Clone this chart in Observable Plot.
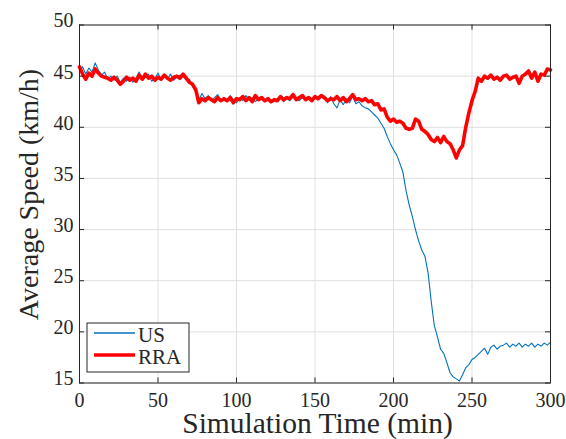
<!DOCTYPE html>
<html>
<head>
<meta charset="utf-8">
<script src="https://cdn.jsdelivr.net/npm/d3@7"></script>
<script src="https://cdn.jsdelivr.net/npm/@observablehq/plot@0.6"></script>
<style>
  html, body { margin: 0; padding: 0; background: white; }
  #chart { width: 566px; height: 439px; }
  #chart svg, #chart svg text { font-family: "Liberation Serif", "Times New Roman", "DejaVu Serif", serif !important; }
</style>
</head>
<body>
<div id="chart"></div>
<script>
const timeStep = 2; // minutes between samples
const usSpeed = [
  45.6,45.9,45.2,45.8,45.4,46.3,45.6,45.1,45.4,44.7,
  45.0,44.6,45.0,44.4,44.8,44.5,44.9,44.4,44.8,45.4,
  44.6,44.9,45.2,44.5,44.8,45.3,44.6,45.0,44.7,45.2,
  44.6,44.9,45.1,45.0,44.6,44.7,44.0,43.5,42.7,43.3,
  42.8,43.1,42.6,42.9,43.2,42.5,42.8,42.6,43.1,42.7,
  42.4,42.9,42.6,43.1,42.7,42.9,42.5,42.8,43.0,42.6,
  42.9,42.4,42.8,42.6,42.9,42.5,42.8,42.6,43.0,42.8,
  42.6,42.9,42.7,43.0,42.6,42.9,42.7,43.1,42.8,42.4,
  43.0,42.3,41.9,42.7,42.2,42.8,42.4,43.0,42.3,42.5,
  42.1,41.9,41.8,41.5,41.2,40.9,40.4,39.9,39.1,38.4,
  37.8,37.3,36.5,35.6,33.8,32.4,31.3,30.0,28.9,28.0,
  27.4,25.8,23.0,20.6,19.5,18.3,17.9,17.0,16.0,15.6,
  15.4,15.2,15.8,16.5,16.8,17.3,17.5,17.8,18.1,18.4,
  17.8,18.5,18.7,18.3,18.6,18.7,18.9,18.5,18.8,18.6,
  18.9,18.5,18.8,18.6,18.9,18.5,18.8,18.6,18.9,18.7,
  19.0
];
const rraSpeed = [
  45.9,45.2,44.7,45.3,45.0,45.7,45.3,45.0,44.9,44.8,
  44.6,44.9,44.6,44.2,44.5,44.9,44.6,44.8,44.5,45.1,
  44.7,45.2,44.8,45.0,44.6,44.9,44.7,45.1,44.8,44.6,
  44.9,45.0,44.8,45.2,44.8,44.4,44.2,43.7,42.4,42.8,
  42.6,42.9,42.7,42.5,42.9,42.6,42.8,42.6,42.9,42.4,
  42.8,42.7,43.0,42.6,42.9,42.5,43.1,42.7,42.9,42.6,
  42.8,42.5,42.7,42.6,43.0,42.7,42.9,42.8,43.2,42.7,
  42.9,43.1,42.7,42.9,42.6,43.0,42.8,43.1,42.9,42.6,
  42.8,42.7,43.0,42.6,42.9,42.5,42.8,43.2,42.7,42.8,
  42.6,42.8,42.5,42.6,42.2,42.3,41.7,41.8,41.0,40.6,
  40.8,40.5,40.6,40.4,39.9,39.8,39.9,40.8,40.6,39.8,
  39.6,39.3,38.8,38.6,39.0,38.5,39.1,38.6,38.4,37.8,
  37.0,37.8,38.2,40.0,41.4,42.6,43.5,44.8,44.5,45.0,
  44.8,45.1,44.7,44.9,44.6,45.0,45.1,44.7,44.9,45.0,
  44.3,45.0,45.2,45.5,44.8,45.4,44.5,45.2,45.1,45.7,
  45.6
];
const seriesNames = ["US", "RRA"];
const xTicks = [0, 50, 100, 150, 200, 250, 300];
const yTicks = [15, 20, 25, 30, 35, 40, 45, 50];
const xLabel = "Simulation Time (min)";
const yLabel = "Average Speed (km/h)";

const usData = usSpeed.map((v, i) => ({t: i * timeStep, v}));
const rraData = rraSpeed.map((v, i) => ({t: i * timeStep, v}));

const W = 566, H = 439;
const mL = 79, mR = 16, mT = 24.5, mB = 56.5;
const plotW = W - mL - mR, plotH = H - mT - mB;
const ink = "#262626";
const blue = "#0072BD", red = "#FF0000";
const serif = "Liberation Serif, Times New Roman, serif";

const chart = Plot.plot({
  width: W, height: H,
  marginLeft: mL, marginRight: mR, marginTop: mT, marginBottom: mB,
  x: {domain: [0, 300]},
  y: {domain: [15, 50]},
  style: {fontFamily: serif, fontSize: "20px", color: ink, background: "white", overflow: "visible"},
  marks: [
    Plot.gridX(xTicks, {stroke: "#dfdfdf", strokeOpacity: 1, strokeWidth: 1}),
    Plot.gridY(yTicks, {stroke: "#dfdfdf", strokeOpacity: 1, strokeWidth: 1}),
    Plot.line(usData, {x: "t", y: "v", stroke: blue, strokeWidth: 1.1}),
    Plot.line(rraData, {x: "t", y: "v", stroke: red, strokeWidth: 3.6, strokeLinejoin: "round"}),
    Plot.frame({stroke: ink, strokeWidth: 1}),
    // inward ticks
    Plot.tickX(xTicks, {x: d => d, stroke: ink, insetTop: plotH - 5}),
    Plot.tickX(xTicks, {x: d => d, stroke: ink, insetBottom: plotH - 5}),
    Plot.tickY(yTicks, {y: d => d, stroke: ink, insetRight: plotW - 5}),
    Plot.tickY(yTicks, {y: d => d, stroke: ink, insetLeft: plotW - 5}),
    Plot.axisX(xTicks, {tickSize: 0, tickPadding: 10, fontSize: 20, label: null, fill: ink}),
    Plot.axisY(yTicks, {tickSize: 0, tickPadding: 6, fontSize: 20, label: null, dy: -4, fill: ink})
  ]
});

const svg = d3.select(chart);
// axis titles
svg.append("text")
  .attr("x", (mL + W - mR) / 2 + 3).attr("y", 433)
  .attr("text-anchor", "middle")
  .attr("font-size", 29.5).attr("fill", ink)
  .text(xLabel);
svg.append("text")
  .attr("transform", `translate(38, ${mT + plotH / 2 - 9}) rotate(-90)`)
  .attr("text-anchor", "middle")
  .attr("font-size", 28).attr("fill", ink)
  .text(yLabel);

// legend
const lg = svg.append("g").attr("transform", `translate(${mL + 8}, ${H - mB - 59.5})`);
lg.append("rect").attr("x", 0).attr("y", 0).attr("width", 102).attr("height", 49)
  .attr("fill", "white").attr("stroke", ink).attr("stroke-width", 1);
const legendItems = [
  {name: seriesNames[0], color: blue, w: 1.3},
  {name: seriesNames[1], color: red, w: 3.3}
];
legendItems.forEach((it, i) => {
  const cy = 10 + i * 22;
  lg.append("line").attr("x1", 7).attr("x2", 48).attr("y1", cy).attr("y2", cy)
    .attr("stroke", it.color).attr("stroke-width", it.w);
  lg.append("text").attr("x", 51).attr("y", cy + 9)
    .attr("text-anchor", "start")
    .attr("font-size", 21).attr("fill", ink)
    .text(it.name);
});

document.getElementById("chart").appendChild(chart);
</script>
</body>
</html>
